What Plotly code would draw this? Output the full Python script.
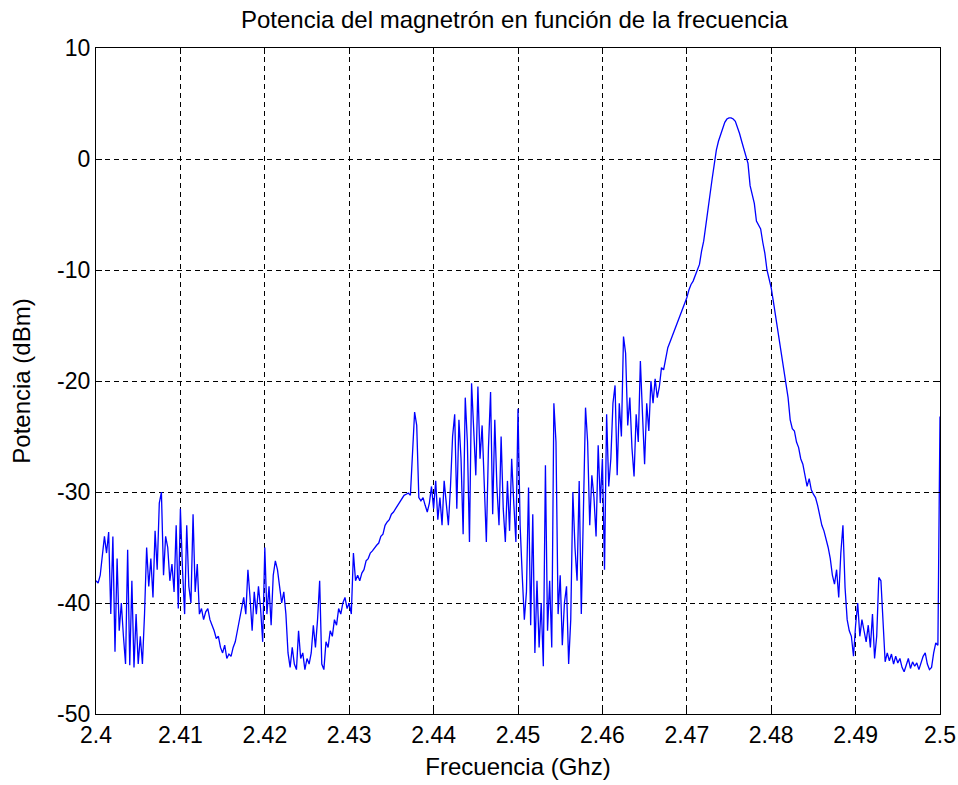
import numpy as np
import plotly.graph_objects as go

# Sweep: 401 points from 2.40 to 2.50 GHz
freq_start = 2.40
freq_stop = 2.50
n_points = 401
freq = np.linspace(freq_start, freq_stop, n_points)

power_dbm = [
    # 2.400 - 2.410
    -38.0, -38.2, -37.5, -36.0, -34.0, -35.5, -33.6, -41.0, -34.0, -44.4,
    -36.0, -42.5, -40.0, -43.0, -45.5, -35.2, -45.6, -38.0, -45.8, -41.0,
    -45.5, -43.0, -45.5, -41.0, -35.0, -38.5, -36.0, -39.5, -33.5, -37.0,
    -31.0, -30.0, -37.5, -34.0, -35.0, -38.0, -36.5, -39.0, -33.0, -40.5,
    -31.5,
    # 2.410 - 2.420
    -37.0, -41.0, -33.0, -38.5, -40.0, -32.0, -39.0, -36.5, -41.0, -40.5,
    -41.5, -40.8, -40.5, -41.5, -42.0, -42.5, -43.2, -43.0, -44.0, -44.5,
    -43.8, -45.0, -44.6, -44.8, -44.0, -43.5, -42.5, -41.5, -40.5, -39.5,
    -41.0, -37.0, -39.5, -42.5, -39.0, -41.0, -38.5, -40.5, -43.5, -35.0,
    # 2.420 - 2.430
    -41.0, -38.5, -42.0, -37.5, -36.2, -37.0, -38.5, -40.0, -39.0, -41.0,
    -44.5, -45.8, -44.0, -45.5, -46.0, -42.5, -45.0, -44.5, -46.0, -45.0,
    -45.5, -44.5, -42.0, -44.0, -41.5, -38.0, -45.5, -46.0, -43.5, -44.0,
    -42.5, -43.0, -41.5, -42.0, -40.5, -41.0, -40.0, -39.5, -40.5, -40.0,
    # 2.430 - 2.440
    -41.0, -35.5, -38.0, -37.5, -38.0, -37.3, -37.0, -36.2, -36.0, -35.5,
    -35.3, -35.0, -34.8, -34.6, -34.0, -33.8, -33.0, -32.7, -32.5, -32.0,
    -31.8, -31.5, -31.2, -30.8, -30.6, -30.3, -30.2, -30.1, -30.3, -26.5,
    -22.8, -24.0, -30.5, -30.8, -30.5, -31.2, -31.8, -31.0, -29.5, -31.5,
    # 2.440 - 2.450
    -29.0, -32.5, -30.5, -33.0, -29.0, -31.0, -33.0, -29.5, -25.0, -23.0,
    -31.5, -23.5, -27.0, -33.8, -21.5, -25.5, -34.5, -20.2, -24.0, -28.5,
    -20.5, -27.0, -24.0, -29.0, -34.5, -26.0, -21.0, -32.0, -23.5, -29.5,
    -33.0, -25.0, -31.5, -34.5, -29.0, -33.5, -27.0, -31.0, -34.5, -22.5,
    # 2.450 - 2.460
    -33.0, -37.5, -41.5, -39.0, -29.6, -42.0, -32.0, -44.5, -38.0, -44.0,
    -40.0, -45.7, -27.6, -42.5, -38.0, -44.0, -22.0, -25.5, -41.0, -37.5,
    -43.8, -40.0, -38.5, -45.5, -41.5, -30.0, -35.0, -38.0, -29.0, -41.0,
    -31.0, -22.4, -25.5, -33.0, -28.5, -30.5, -34.0, -25.8, -31.0, -27.0,
    # 2.460 - 2.470
    -37.0, -23.0, -29.5, -27.0, -22.0, -20.4, -28.5, -22.0, -25.0, -16.0,
    -17.5, -24.0, -21.5, -26.0, -28.6, -23.0, -25.5, -18.2, -23.0, -27.5,
    -22.0, -24.5, -20.0, -22.0, -19.8, -21.5, -20.5, -18.8, -19.0, -18.0,
    -17.0, -16.5, -16.0, -15.5, -15.0, -14.5, -14.0, -13.5, -13.0, -12.5,
    # 2.470 - 2.480
    -11.8, -11.3, -11.0, -10.5, -10.1, -9.5, -8.3, -7.4, -6.0, -4.8,
    -3.2, -1.8, -0.4, 0.8, 1.6, 2.2, 2.8, 3.3, 3.6, 3.7,
    3.7, 3.6, 3.4, 2.9, 2.3, 1.6, 1.0, 0.4, -0.4, -2.4,
    -3.2, -4.0, -5.6, -5.9, -6.3, -7.5, -8.5, -10.0, -10.8, -11.6,
    # 2.480 - 2.490
    -12.8, -14.0, -15.2, -16.5, -17.8, -19.0, -20.0, -21.5, -23.5, -24.3,
    -24.5, -25.5, -26.0, -27.0, -27.5, -28.5, -29.5, -28.8, -29.8, -30.2,
    -30.5, -31.2, -32.0, -33.0, -33.5, -34.2, -35.0, -36.0, -37.5, -38.3,
    -37.0, -39.5, -35.5, -33.0, -38.6, -41.5, -42.5, -43.0, -44.8, -42.0,
    # 2.490 - 2.500
    -40.0, -43.0, -41.5, -42.5, -43.5, -42.0, -44.0, -41.0, -45.0, -43.0,
    -37.7, -38.0, -42.0, -45.3, -44.5, -45.2, -44.6, -45.5, -44.8, -45.4,
    -45.0, -45.8, -46.2, -45.5, -45.0, -45.9, -45.3, -45.7, -45.4, -46.0,
    -45.4, -44.8, -44.5, -45.5, -46.0, -45.8, -44.5, -43.6, -43.8, -23.2,
]

x_tick_vals = [2.40, 2.41, 2.42, 2.43, 2.44, 2.45, 2.46, 2.47, 2.48, 2.49, 2.50]
x_tick_text = ["2.4", "2.41", "2.42", "2.43", "2.44", "2.45", "2.46", "2.47", "2.48", "2.49", "2.5"]
y_tick_vals = [10, 0, -10, -20, -30, -40, -50]
y_tick_text = ["10", "0", "-10", "-20", "-30", "-40", "-50"]

title_text = "Potencia del magnetrón en función de la frecuencia"
x_title = "Frecuencia (Ghz)"
y_title = "Potencia (dBm)"

font_family = "Liberation Sans, Arial, sans-serif"

fig = go.Figure()
fig.add_trace(go.Scatter(
    x=freq, y=power_dbm, mode="lines",
    line=dict(color="#0000FF", width=1.3),
    showlegend=False,
))

axis_common = dict(
    showline=True, linecolor="black", linewidth=1.3, mirror="ticks",
    ticks="inside", ticklen=6, tickcolor="black", tickwidth=1.3,
    showgrid=True, gridcolor="black", gridwidth=1, griddash="5px,4px",
    zeroline=False,
    tickfont=dict(family=font_family, size=23, color="black"),
)

fig.update_layout(
    width=958, height=785,
    margin=dict(l=96, r=18, t=48, b=71, autoexpand=False),
    paper_bgcolor="white", plot_bgcolor="white",
    title=dict(text=title_text, x=0.537, xanchor="center", y=0.975, yanchor="middle",
               font=dict(family=font_family, size=24, color="black")),
    xaxis=dict(range=[freq_start, freq_stop], tickvals=x_tick_vals, ticktext=x_tick_text,
               title=dict(text=x_title, standoff=11,
                          font=dict(family=font_family, size=24, color="black")),
               **axis_common),
    yaxis=dict(range=[-50, 10], tickvals=y_tick_vals, ticktext=y_tick_text,
               title=dict(text=y_title, standoff=19,
                          font=dict(family=font_family, size=24, color="black")),
               **axis_common),
)

fig.write_html("out.html")
